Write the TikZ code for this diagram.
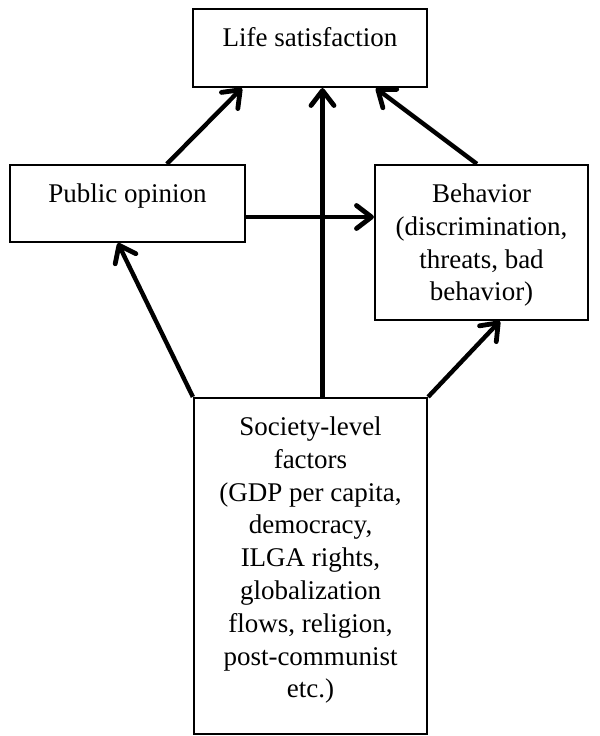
\documentclass[tikz,border=0pt]{standalone}
\usepackage{fontspec}
\setmainfont{Liberation Serif}
\usetikzlibrary{arrows.meta,calc}
\newcommand\boxtxt[3]{\parbox[c][#2][t]{#1}{\centering\fontsize{13.5}{16.4}\selectfont\vspace*{7.3pt}\strut #3\par}}
\tikzset{
  box/.style={draw, line width=1.1pt, rectangle, inner sep=0pt},
  arr/.style={line width=2.2pt, -{Straight Barb[length=7.5pt,width=11.5pt,line width=2.4pt,round]}}
}
\begin{document}
\begin{tikzpicture}[x=0.5pt,y=-0.5pt]
\useasboundingbox (0,0) rectangle (600,736);
\node[box] (life) at (310,48) {\boxtxt{117pt}{39pt}{Life satisfaction}};
\node[box] (pub) at (127.5,203.5) {\boxtxt{117.5pt}{38.5pt}{Public opinion}};
\node[box] (beh) at (481.5,242.5) {\boxtxt{106.5pt}{77.5pt}{Behavior\\(discrimination,\\threats, bad\\behavior)}};
\node[box] (soc) at (310.5,566) {\boxtxt{116.5pt}{168pt}{Society-level\\factors\\(GDP per capita,\\democracy,\\ILGA rights,\\globalization\\flows, religion,\\post-communist\\etc.)}};
\draw[arr] ([xshift=79pt]pub.north west) -- ([xshift=25pt]life.south west);
\draw[arr] ([xshift=6pt]soc.north) -- ([xshift=6pt]soc.north |- life.south);
\draw[arr] ([xshift=51.5pt]beh.north west) -- ([xshift=92pt]life.south west);
\draw[arr] ([yshift=-6.75pt]pub.east) -- ([yshift=-6.75pt]pub.east -| beh.west);
\draw[arr] (soc.north west) -- ([xshift=54.5pt]pub.south west);
\draw[arr] (soc.north east) -- ([xshift=63pt]beh.south west);
\end{tikzpicture}
\end{document}
